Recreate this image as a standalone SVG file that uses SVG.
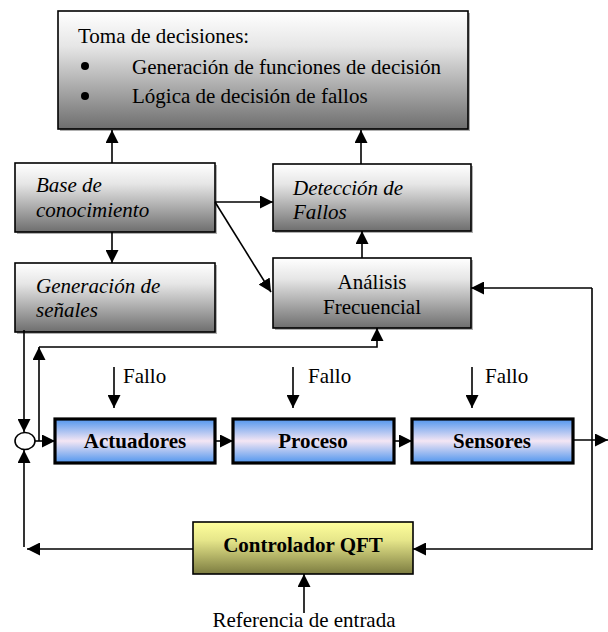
<svg xmlns="http://www.w3.org/2000/svg" width="608" height="632" viewBox="0 0 608 632" font-family="'Liberation Serif', 'Times New Roman', Times, 'DejaVu Serif', serif">
<style>
  text { font-family: 'Liberation Serif', 'Times New Roman', Times, 'DejaVu Serif', serif; font-size: 21px; fill: #000; }
  .it { font-style: italic; }
  .b { font-weight: bold; }
  .gray { fill: url(#gGray); stroke: #000; stroke-width: 1.6; }
  .blue { fill: url(#gBlue); stroke: #000; stroke-width: 3.2; }
  .yel { fill: url(#gYel); stroke: #000; stroke-width: 1.6; }
  .sh { fill: #b0b0b0; }
  .c { fill: none; stroke: #000; stroke-width: 1.6; }
  .a { marker-end: url(#ah); }
</style>
<defs>
  <linearGradient id="gGray" x1="0" y1="0" x2="0" y2="1">
    <stop offset="0" stop-color="#ffffff"/>
    <stop offset="0.3" stop-color="#e6e6e6"/>
    <stop offset="1" stop-color="#6e6e6e"/>
  </linearGradient>
  <linearGradient id="gBlue" x1="0" y1="0" x2="0" y2="1">
    <stop offset="0" stop-color="#4f95ee"/>
    <stop offset="0.5" stop-color="#f4e6f4"/>
    <stop offset="1" stop-color="#4f95ee"/>
  </linearGradient>
  <linearGradient id="gYel" x1="0" y1="0" x2="0" y2="1">
    <stop offset="0" stop-color="#ffff9c"/>
    <stop offset="0.35" stop-color="#e6e68a"/>
    <stop offset="1" stop-color="#7c7c40"/>
  </linearGradient>
  <marker id="ah" viewBox="0 0 12 12" markerUnits="userSpaceOnUse" markerWidth="13" markerHeight="13" refX="12" refY="6" orient="auto">
    <path d="M0,0 L12,6 L0,12 z" fill="#000"/>
  </marker>
</defs>

<g id="toma">
  <rect class="sh" x="60" y="13" width="410" height="118"/>
  <rect class="gray" x="58" y="11" width="410" height="118"/>
  <text x="78" y="43">Toma de decisiones:</text>
  <circle cx="85" cy="66" r="4"/>
  <text x="132" y="74">Generación de funciones de decisión</text>
  <circle cx="85" cy="96" r="4"/>
  <text x="132" y="103">Lógica de decisión de fallos</text>
</g>

<g id="base">
  <rect class="sh" x="17" y="165" width="200" height="69"/>
  <rect class="gray" x="15" y="163" width="200" height="69"/>
  <text class="it" x="36" y="192">Base de</text>
  <text class="it" x="36" y="217">conocimiento</text>
</g>

<g id="generacion">
  <rect class="sh" x="17" y="265" width="200" height="69"/>
  <rect class="gray" x="15" y="263" width="200" height="69"/>
  <text class="it" x="36" y="293">Generación de</text>
  <text class="it" x="36" y="317">señales</text>
</g>

<g id="deteccion">
  <rect class="sh" x="275" y="166" width="198" height="67"/>
  <rect class="gray" x="273" y="164" width="198" height="67"/>
  <text class="it" x="293" y="195">Detección de</text>
  <text class="it" x="293" y="219">Fallos</text>
</g>

<g id="analisis">
  <rect class="sh" x="275" y="260" width="198" height="70"/>
  <rect class="gray" x="273" y="258" width="198" height="70"/>
  <text x="372" y="289" text-anchor="middle">Análisis</text>
  <text x="372" y="314" text-anchor="middle">Frecuencial</text>
</g>

<g id="sumador">
  <ellipse cx="25" cy="441" rx="10" ry="8.5" fill="#fff" stroke="#000" stroke-width="1.6"/>
</g>

<g id="actuadores">
  <rect class="blue" x="55" y="419" width="160" height="44"/>
  <text class="b" x="135" y="448" text-anchor="middle">Actuadores</text>
</g>

<g id="proceso">
  <rect class="blue" x="233" y="419" width="161" height="44"/>
  <text class="b" x="313" y="448" text-anchor="middle">Proceso</text>
</g>

<g id="sensores">
  <rect class="blue" x="412" y="419" width="161" height="44"/>
  <text class="b" x="492" y="448" text-anchor="middle">Sensores</text>
</g>

<g id="controlador">
  <rect class="yel" x="193" y="522" width="220" height="52"/>
  <text class="b" x="303" y="552" text-anchor="middle">Controlador QFT</text>
</g>

<g id="labels">
  <text x="123" y="383">Fallo</text>
  <text x="308" y="383">Fallo</text>
  <text x="485" y="383">Fallo</text>
  <text x="304" y="627" text-anchor="middle">Referencia de entrada</text>
</g>

<g id="connectors">
  <line class="c a" x1="112" y1="163" x2="112" y2="130"/>
  <line class="c a" x1="361" y1="164" x2="361" y2="130"/>
  <line class="c a" x1="112" y1="232" x2="112" y2="263"/>
  <line class="c a" x1="215" y1="202" x2="273" y2="202"/>
  <line class="c a" x1="215" y1="202" x2="271" y2="292"/>
  <line class="c a" x1="362" y1="258" x2="362" y2="231"/>
  <polyline class="c a" points="24,330 24,432"/>
  <polyline class="c a" points="39,441 39,347"/>
  <polyline class="c a" points="39,347 377,347 377,328"/>
  <line class="c a" x1="35" y1="441" x2="55" y2="441"/>
  <line class="c a" x1="215" y1="441" x2="233" y2="441"/>
  <line class="c a" x1="394" y1="441" x2="412" y2="441"/>
  <line class="c a" x1="573" y1="440" x2="608" y2="440"/>
  <line class="c a" x1="114" y1="367" x2="114" y2="408"/>
  <line class="c a" x1="293" y1="367" x2="293" y2="408"/>
  <line class="c a" x1="472" y1="367" x2="472" y2="408"/>
  <polyline class="c a" points="592,288 471,288"/>
  <line class="c" x1="592" y1="288" x2="592" y2="550"/>
  <polyline class="c a" points="592,549 413,549"/>
  <polyline class="c a" points="193,549 27,549"/>
  <line class="c a" x1="24" y1="547" x2="24" y2="450"/>
  <line class="c a" x1="304" y1="613" x2="304" y2="574"/>
</g>
</svg>
